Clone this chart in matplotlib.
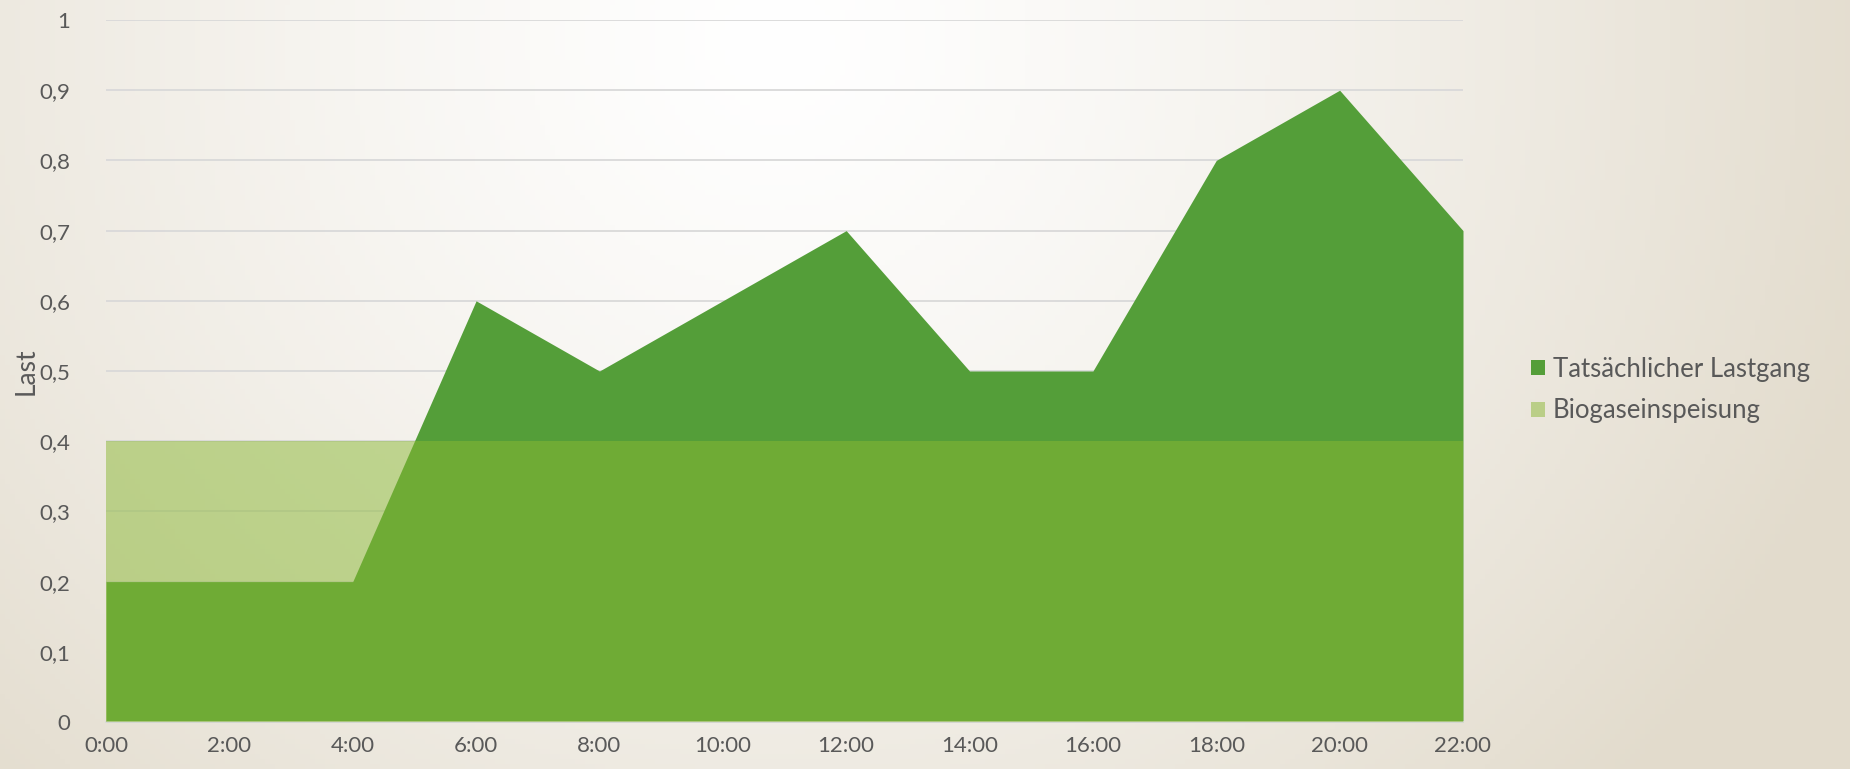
import numpy as np
import matplotlib
matplotlib.use("Agg")
import matplotlib.pyplot as plt
from matplotlib.patches import Patch

hours = ["0:00", "2:00", "4:00", "6:00", "8:00", "10:00", "12:00", "14:00", "16:00", "18:00", "20:00", "22:00"]
lastgang = [0.2, 0.2, 0.2, 0.6, 0.5, 0.6, 0.7, 0.5, 0.5, 0.8, 0.9, 0.7]
biogas = [0.4] * 12
y_ticks = [0, 0.1, 0.2, 0.3, 0.4, 0.5, 0.6, 0.7, 0.8, 0.9, 1.0]
y_labels = ["0", "0,1", "0,2", "0,3", "0,4", "0,5", "0,6", "0,7", "0,8", "0,9", "1"]

plt.rcParams['font.family'] = ['Lato', 'DejaVu Sans']
text_col = "#595959"

fig = plt.figure(figsize=(18.5, 7.69), dpi=100)

# radial background gradient
bg = fig.add_axes([0, 0, 1, 1], zorder=0)
W, H = 370, 154
xx, yy = np.meshgrid(np.linspace(0, 1, W), np.linspace(0, 1, H))
cx, cy = 0.42, 0.05
d = np.sqrt(((xx - cx) * 1.0) ** 2 + ((yy - cy) * 0.42) ** 2)
t = np.clip(d / 0.62, 0, 1) ** 1.3
c0 = np.array([255, 255, 255]) / 255
c1 = np.array([226, 219, 204]) / 255
img = c0[None, None, :] * (1 - t[..., None]) + c1[None, None, :] * t[..., None]
bg.imshow(img, aspect='auto', extent=[0, 1, 0, 1], origin='upper')
bg.axis('off')

ax = fig.add_axes([106 / 1850, 1 - 722 / 769, (1463 - 106) / 1850, (722 - 20) / 769], zorder=1)
ax.set_facecolor('none')
x = np.arange(len(hours))
dark = "#549E39"
light = "#8AB833"
ax.fill_between(x, 0, lastgang, color=dark, lw=0, zorder=2)
ax.fill_between(x, 0, biogas, color=light, alpha=0.5, lw=0, zorder=3)

ax.set_xlim(0, len(hours) - 1)
ax.set_ylim(0, 1)
ax.set_xticks(x)
ax.set_xticklabels(hours)
ax.set_yticks(y_ticks)
ax.set_yticklabels(y_labels)
ax.grid(axis='y', color="#D9D9D9", lw=1.3, zorder=1)
ax.set_axisbelow(True)
for s in ["top", "right", "left"]:
    ax.spines[s].set_visible(False)
ax.spines["bottom"].set_color("#D9D9D9")
ax.spines["bottom"].set_linewidth(1.3)
ax.tick_params(axis='both', length=0, labelsize=16, colors=text_col)
ax.tick_params(axis='x', pad=10)
ax.tick_params(axis='y', pad=26)
ax.set_ylabel("Last", fontsize=19, color=text_col, labelpad=0)

handles = [Patch(facecolor=dark, edgecolor='none', label="Tatsächlicher Lastgang"),
           Patch(facecolor=light, alpha=0.5, edgecolor='none', label="Biogaseinspeisung")]
leg = fig.legend(handles=handles, loc='center left', bbox_to_anchor=(1508 / 1850, 1 - 390 / 769),
                 frameon=False, fontsize=18.5, handlelength=0.55, handleheight=0.55,
                 handletextpad=0.3, labelspacing=0.65, labelcolor=text_col)

fig.savefig("out.png", dpi=100)
